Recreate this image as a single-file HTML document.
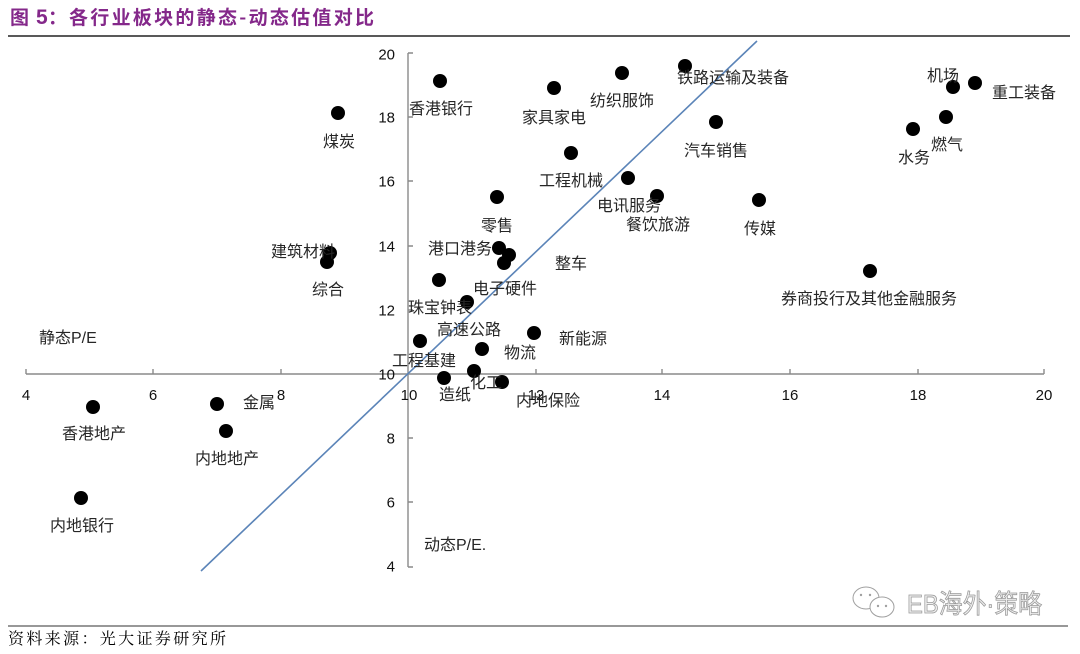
<!DOCTYPE html>
<html>
<head>
<meta charset="utf-8">
<style>
html,body{margin:0;padding:0;background:#fff;}
body{width:1080px;height:654px;overflow:hidden;}
svg{display:block;}
.lb{font-family:"Liberation Sans","Noto Sans CJK SC",sans-serif;font-size:16px;fill:#262626;}
.tk{font-family:"Liberation Sans",sans-serif;font-size:15px;fill:#111;}
</style>
</head>
<body>
<svg width="1080" height="654" viewBox="0 0 1080 654" xmlns="http://www.w3.org/2000/svg">
<!-- Title -->
<g fill="#84288a" font-family="'Noto Sans CJK SC','Noto Serif CJK SC',sans-serif" font-weight="700" font-size="19">
<text x="10" y="24">图</text>
<text x="36" y="24" font-family="'Liberation Sans',sans-serif" font-size="21">5</text>
<text x="48" y="24">：</text>
<text x="69" y="24" textLength="305" lengthAdjust="spacing">各行业板块的静态-动态估值对比</text>
</g>
<line x1="8" y1="36" x2="1070" y2="36" stroke="#222" stroke-width="1.5"/>

<!-- Axes -->
<g stroke="#8a8a8a" stroke-width="1.4" fill="none">
<line x1="26" y1="374" x2="1044" y2="374"/>
<line x1="408" y1="53" x2="408" y2="567"/>
<path d="M26 374v-5M153 374v-5M281 374v-5M536 374v-5M662 374v-5M790 374v-5M918 374v-5M1044 374v-5"/>
<path d="M408 53h5M408 117h5M408 181h5M408 246h5M408 310h5M408 438h5M408 502h5M408 567h5"/>
</g>
<!-- Y tick labels -->
<g class="tk" text-anchor="end">
<text x="395" y="59.5">20</text>
<text x="395" y="122.5">18</text>
<text x="395" y="186.5">16</text>
<text x="395" y="251.5">14</text>
<text x="395" y="315.5">12</text>
<text x="395" y="379.5">10</text>
<text x="395" y="443.5">8</text>
<text x="395" y="507.5">6</text>
<text x="395" y="571.5">4</text>
</g>
<!-- X tick labels -->
<g class="tk" text-anchor="middle">
<text x="26" y="400">4</text>
<text x="153" y="400">6</text>
<text x="281" y="400">8</text>
<text x="409" y="400">10</text>
<text x="536" y="400">12</text>
<text x="662" y="400">14</text>
<text x="790" y="400">16</text>
<text x="918" y="400">18</text>
<text x="1044" y="400">20</text>
</g>

<!-- Diagonal line -->
<line x1="201" y1="571" x2="757" y2="41" stroke="#5b84b8" stroke-width="1.6"/>

<!-- Dots -->
<g fill="#000">
<circle cx="440" cy="81" r="7"/>
<circle cx="338" cy="113" r="7"/>
<circle cx="554" cy="88" r="7"/>
<circle cx="622" cy="73" r="7"/>
<circle cx="685" cy="66" r="7"/>
<circle cx="953" cy="87" r="7"/>
<circle cx="975" cy="83" r="7"/>
<circle cx="716" cy="122" r="7"/>
<circle cx="913" cy="129" r="7"/>
<circle cx="946" cy="117" r="7"/>
<circle cx="571" cy="153" r="7"/>
<circle cx="628" cy="178" r="7"/>
<circle cx="657" cy="196" r="7"/>
<circle cx="759" cy="200" r="7"/>
<circle cx="497" cy="197" r="7"/>
<circle cx="330" cy="253" r="7"/>
<circle cx="327" cy="262" r="7"/>
<circle cx="499" cy="248" r="7"/>
<circle cx="509" cy="255" r="7"/>
<circle cx="504" cy="263" r="7"/>
<circle cx="870" cy="271" r="7"/>
<circle cx="439" cy="280" r="7"/>
<circle cx="467" cy="302" r="7"/>
<circle cx="420" cy="341" r="7"/>
<circle cx="482" cy="349" r="7"/>
<circle cx="534" cy="333" r="7"/>
<circle cx="474" cy="371" r="7"/>
<circle cx="444" cy="378" r="7"/>
<circle cx="502" cy="382" r="7"/>
<circle cx="217" cy="404" r="7"/>
<circle cx="93" cy="407" r="7"/>
<circle cx="226" cy="431" r="7"/>
<circle cx="81" cy="498" r="7"/>
</g>

<!-- Labels -->
<g class="lb">
<text x="409" y="114">香港银行</text>
<text x="323" y="147">煤炭</text>
<text x="522" y="123">家具家电</text>
<text x="590" y="106">纺织服饰</text>
<text x="677" y="83">铁路运输及装备</text>
<text x="927" y="81">机场</text>
<text x="992" y="98">重工装备</text>
<text x="684" y="156">汽车销售</text>
<text x="898" y="163">水务</text>
<text x="931" y="150">燃气</text>
<text x="539" y="186">工程机械</text>
<text x="597" y="211">电讯服务</text>
<text x="626" y="230">餐饮旅游</text>
<text x="744" y="234">传媒</text>
<text x="481" y="231">零售</text>
<text x="271" y="257">建筑材料</text>
<text x="312" y="295">综合</text>
<text x="428" y="254">港口港务</text>
<text x="555" y="269">整车</text>
<text x="473" y="294">电子硬件</text>
<text x="408" y="313">珠宝钟表</text>
<text x="437" y="335">高速公路</text>
<text x="392" y="366">工程基建</text>
<text x="504" y="358">物流</text>
<text x="559" y="344">新能源</text>
<text x="470" y="388">化工</text>
<text x="439" y="400">造纸</text>
<text x="516" y="406">内地保险</text>
<text x="243" y="408">金属</text>
<text x="62" y="439">香港地产</text>
<text x="195" y="464">内地地产</text>
<text x="50" y="531">内地银行</text>
<text x="781" y="304">券商投行及其他金融服务</text>
<text x="39" y="343">静态P/E</text>
<text x="424" y="550">动态P/E.</text>
</g>

<!-- Watermark -->
<g stroke="#a0a0a0" stroke-width="1" fill="#fff">
<ellipse cx="866" cy="598" rx="13" ry="11"/>
<ellipse cx="882" cy="607" rx="12" ry="10"/>
</g>
<g fill="#a0a0a0">
<circle cx="861" cy="595" r="1.2"/><circle cx="870" cy="595" r="1.2"/>
<circle cx="878" cy="606" r="1.2"/><circle cx="886" cy="606" r="1.2"/>
</g>
<text x="907" y="613" font-family="'Liberation Sans','Noto Sans CJK SC',sans-serif" font-size="26" fill="#efefef" stroke="#999" stroke-width="0.8" textLength="135" lengthAdjust="spacingAndGlyphs">EB海外·策略</text>

<!-- Footer -->
<line x1="8" y1="626" x2="1068" y2="626" stroke="#777" stroke-width="1.5"/>
<text x="8" y="644" font-family="'Noto Serif CJK SC','Noto Sans CJK SC',serif" font-size="16" fill="#000" textLength="218" lengthAdjust="spacing">资料来源：光大证券研究所</text>
</svg>
</body>
</html>
